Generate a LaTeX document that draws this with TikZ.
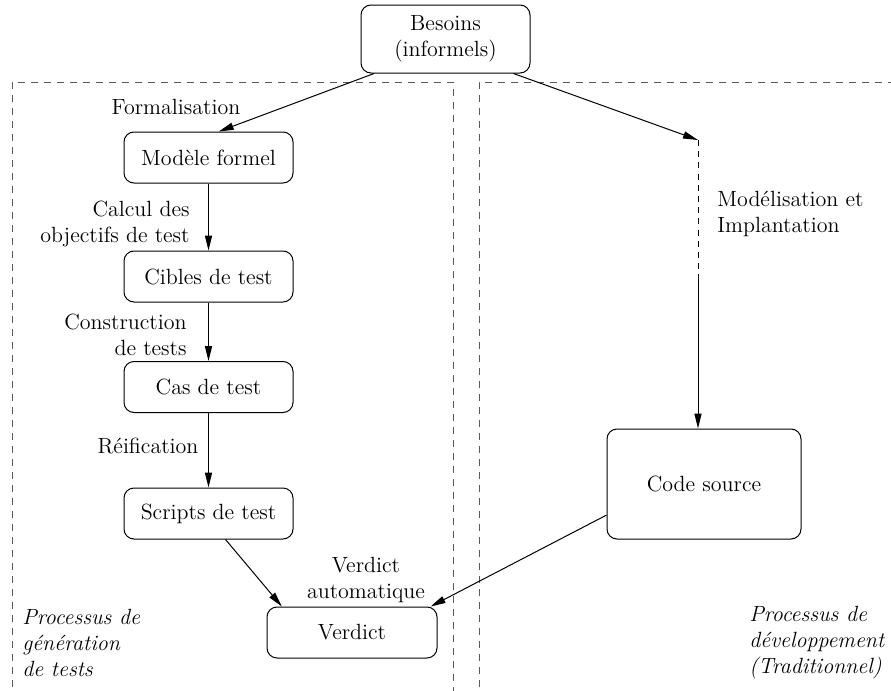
\documentclass[tikz,border=0pt]{standalone}
\usetikzlibrary{arrows.meta,calc}
\begin{document}
\begin{tikzpicture}[x=0.5pt,y=-0.5pt,
  font=\fontsize{11}{13}\selectfont,
  box/.style={draw,line width=0.5pt,rounded corners=5pt,align=center,inner sep=0pt,
    minimum width=84.5pt,minimum height=25.5pt},
  flow/.style={line width=0.5pt,-{Triangle[length=7.5pt,width=3.6pt]}},
  region/.style={draw=black!65,line width=0.5pt,dash pattern=on 3.5pt off 3pt},
  lbl/.style={inner sep=0pt},
  note/.style={inner sep=0pt,align=left,font=\fontsize{11}{13}\selectfont\itshape}]
\useasboundingbox (0,0) rectangle (891,691);

% process regions
\draw[region] (12,700) -- (12,82) -- (453,82) -- (453,700);
\draw[region] (479,700) -- (479,82) -- (900,82);

% nodes
\node[box,minimum height=34pt] (bes) at (445.5,39) {Besoins\\(informels)};
\node[box] (mod) at (208.5,157.5) {Modèle formel};
\node[box] (cib) at (208.5,276.5) {Cibles de test};
\node[box] (cas) at (208.5,387) {Cas de test};
\node[box] (scr) at (208.5,513.5) {Scripts de test};
\node[box,minimum width=85pt] (ver) at (352,632.5) {Verdict};
\node[box,minimum width=97pt,minimum height=55pt] (code) at (704,484) {Code source};

\coordinate (turn) at (698,140);
\coordinate (mid) at (698,280);

% connectors
\draw[flow] ($(bes.south west)!0.08!(bes.south east)$) -- ($(mod.north west)!0.56!(mod.north east)$);
\draw[flow] ($(bes.south west)!0.9!(bes.south east)$) -- (turn);
\draw[line width=0.5pt,dash pattern=on 3pt off 2.6pt] (turn) -- (mid);
\draw[flow] (mid) -- (mid |- code.north);
\draw[flow] (mod) -- (cib);
\draw[flow] (cib) -- (cas);
\draw[flow] (cas) -- (scr);
\draw[flow] ($(scr.south west)!0.6!(scr.south east)$) -- ($(ver.north west)!0.09!(ver.north east)$);
\draw[flow] ($(code.north west)!0.78!(code.south west)$) -- ($(ver.north west)!0.96!(ver.north east)$);

% connector labels
\node[lbl] (l1) at (176,107) {Formalisation};
\node[lbl,anchor=east,align=right] (l2) at (190,224) {Calcul des\\objectifs de test};
\node[lbl,anchor=east,align=right] (l3) at (187,335) {Construction\hspace{2.5pt}\\de tests};
\node[lbl] (l4) at (148,446) {Réification};
\node[lbl,anchor=west,align=left] (l5) at (717,214) {Modélisation et\\Implantation};
\node[lbl,align=center] (l6) at (366,580) {Verdict\\automatique};

% region captions
\node[note,anchor=west] (n1) at (22,643) {Processus de\\génération\\de tests};
\node[note,anchor=west] (n2) at (749,643) {Processus de\\développement\\(Traditionnel)};
\end{tikzpicture}
\end{document}
